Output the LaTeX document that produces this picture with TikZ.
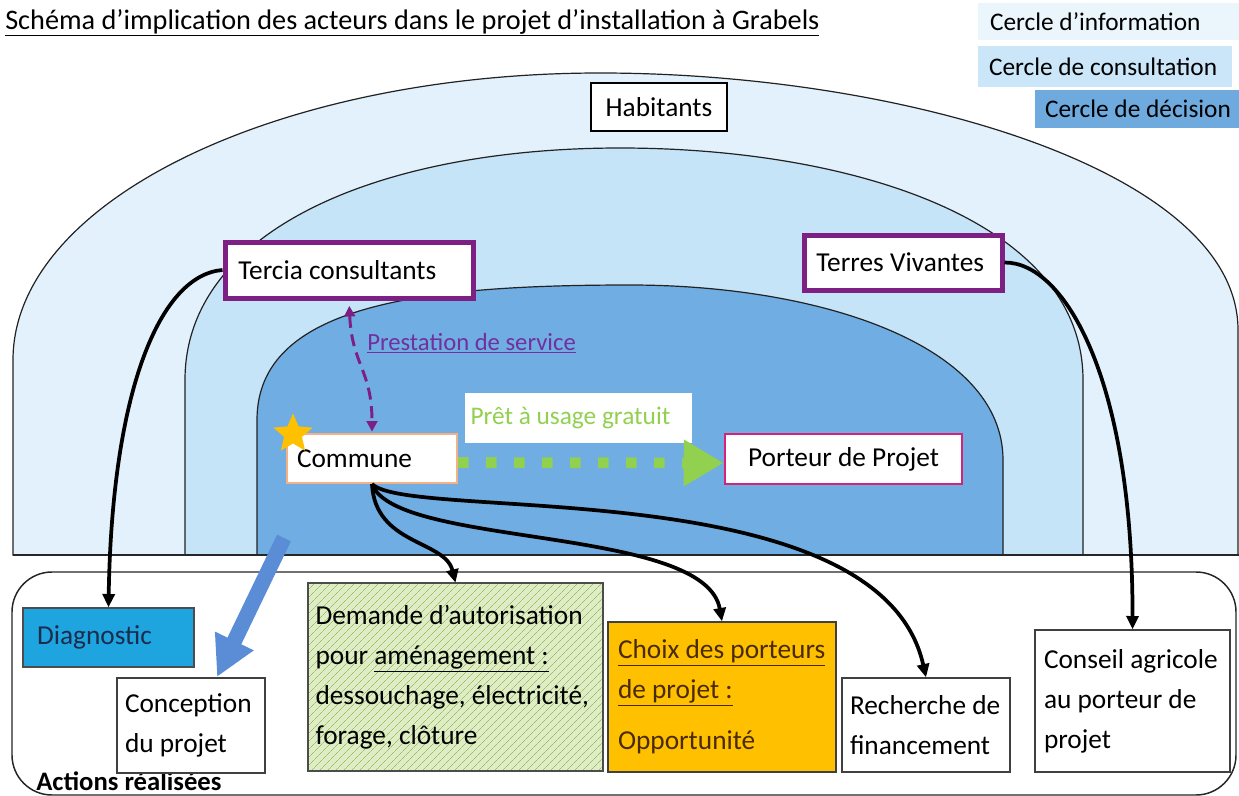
\documentclass[tikz,border=0pt]{standalone}
\usepackage{fontspec}
\setmainfont{Carlito}
\usetikzlibrary{arrows.meta,shapes.geometric,patterns.meta}

\definecolor{infoC}{HTML}{E2F1FB}
\definecolor{consC}{HTML}{C6E4F8}
\definecolor{deciC}{HTML}{70ADE2}
\definecolor{legInfo}{HTML}{EAF5FC}
\definecolor{legCons}{HTML}{CBE6F8}
\definecolor{legDec}{HTML}{6FAADF}
\definecolor{purpleB}{HTML}{7E1F83}
\definecolor{purpleT}{HTML}{7030A0}
\definecolor{orangeB}{HTML}{F4B183}
\definecolor{magB}{HTML}{D6237A}
\definecolor{greenA}{HTML}{92D050}
\definecolor{blueA}{HTML}{5A8DD6}
\definecolor{diagC}{HTML}{1EA5E0}
\definecolor{diagT}{HTML}{1C2C4C}
\definecolor{choixC}{HTML}{FFC000}
\definecolor{choixT}{HTML}{4A2A00}
\definecolor{demC}{HTML}{DFEDC6}
\definecolor{demL}{HTML}{9BBD5F}
\definecolor{starC}{HTML}{FFC000}
\definecolor{archline}{HTML}{222222}

\newcommand\fixspace{\hyphenpenalty=10000\relax}
\newcommand\bodyf{\fontsize{20.5}{30}\selectfont\fixspace}
\newcommand\smallf{\fontsize{18.5}{22}\selectfont\fixspace}
\newcommand\legf{\fontsize{19}{22}\selectfont\fixspace}

\tikzset{
  bx/.style={draw=black!75, line width=1pt, fill=white, inner ysep=0pt, align=flush left, font=\bodyf},
  actor/.style={bx, draw=purpleB, line width=3.75pt},
  conn/.style={line width=2.8pt, black, -{Triangle[length=10pt,width=9pt]}},
  legend/.style={inner ysep=0pt, align=flush left, font=\legf},
  arch/.style={draw=archline, line width=0.9pt}
}

\begin{document}
\begin{tikzpicture}[x=0.75pt,y=-0.75pt]
\useasboundingbox (0,0) rectangle (1239,796);
\fill[white] (0,0) rectangle (1239,796);

% arches
\filldraw[arch, fill=infoC] (13,555) -- (13,360) .. controls (13,200) and (280,73) .. (600,73) .. controls (900,73) and (1238,170) .. (1238,330) -- (1238,555) -- cycle;
\filldraw[arch, fill=consC] (185,555) -- (185,380) .. controls (185,230) and (380,148) .. (620,148) .. controls (850,148) and (1083,220) .. (1083,380) -- (1083,555) -- cycle;
\filldraw[arch, fill=deciC] (257,555) -- (257,420) .. controls (257,305) and (420,285) .. (630,285) .. controls (820,285) and (1003,345) .. (1003,460) -- (1003,555) -- cycle;
\draw[line width=2pt, black!85] (13,555) -- (1239,555);

% actions frame
\draw[line width=1.1pt, black!85, rounded corners=30pt] (12,572) rectangle (1236,795);
\node[anchor=base west, inner sep=0, font=\fontsize{20}{24}\selectfont\bfseries] (actions) at (36,790) {Actions réalisées};

% title
\node[anchor=base west, inner sep=0, font=\fontsize{21.2}{24}\selectfont] (title) at (5,29) {\underline{Schéma d’implication des acteurs dans le projet d’installation à Grabels}};

% legend
\node[legend, fill=legInfo, minimum width=195.75pt, minimum height=27.75pt, text width=177.75pt, inner xsep=9pt] (leginfo) at (1108.5,21.5) {\mbox{Cercle d’information}};
\node[legend, fill=legCons, minimum width=190.5pt, minimum height=30.75pt, text width=174pt, inner xsep=8.25pt] (legcons) at (1105,66.5) {\mbox{Cercle de consultation}};
\node[legend, fill=legDec, minimum width=153pt, minimum height=28.5pt, text width=138pt, inner xsep=7.5pt] (legdec) at (1137,109) {\mbox{Cercle de décision}};

% actors
\node[bx, draw=black, line width=1.8pt, align=center, minimum width=102pt, minimum height=36pt] (hab) at (659,107) {Habitants};
\node[actor, minimum width=186pt, minimum height=42pt, text width=166pt, inner xsep=10pt] (tercia) at (349,270) {Tercia consultants};
\node[actor, minimum width=148.5pt, minimum height=41.25pt, text width=130pt, inner xsep=9.25pt] (terres) at (903,262.5) {\mbox{Terres Vivantes}};
\node[bx, draw=orangeB, line width=1.5pt, minimum width=127.5pt, minimum height=36.75pt, text width=112.5pt, inner xsep=7.5pt] (commune) at (372,458.5) {Commune};
\node[bx, draw=magB, line width=1.9pt, align=center, minimum width=177.75pt, minimum height=37.5pt] (porteur) at (843.5,459) {Porteur de Projet};
\node[star, star points=5, star point ratio=2.2, fill=starC, minimum size=31pt, inner sep=0pt] (star) at (293,434) {};

% relation labels
\node[fill=white, text=greenA, font=\legf, minimum width=170.25pt, minimum height=37.5pt, text width=162pt, inner xsep=4.25pt, inner ysep=0pt, align=flush left] (pret) at (578.5,418) {Prêt à usage gratuit};
\node[anchor=west, text=purpleT, font=\smallf, inner sep=0pt] (presta) at (367,343) {\underline{Prestation de service}};

% actions
\node[bx, fill=diagC, draw=black!70, text=diagT, minimum width=128.25pt, minimum height=44.25pt, text width=107.25pt, inner xsep=10.5pt] (diag) at (108.5,637.5) {Diagnostic};
\node[bx, minimum width=111pt, minimum height=71.25pt, text width=99pt, inner xsep=6pt] (concep) at (191,725.5) {Conception\\du projet};
\node[bx, draw=black!70, preaction={fill=demC}, pattern={Lines[angle=45,distance=4pt,line width=0.45pt]}, pattern color=demL, minimum width=221.25pt, minimum height=141pt, text width=210pt, inner xsep=5.6pt] (demande) at (455.5,677) {Demande d’autorisation\\pour \underline{aménagement :}\\dessouchage, électricité,\\forage, clôture};
\node[bx, fill=choixC, text=choixT, minimum width=171pt, minimum height=112.5pt, text width=156pt, inner xsep=7.5pt] (choix) at (722,697) {\underline{Choix des porteurs}\\\underline{de projet :}\\[8pt]Opportunité};
\node[bx, minimum width=126pt, minimum height=70.5pt, text width=114pt, inner xsep=6pt] (recherche) at (926,725) {Recherche de\\financement};
\node[bx, minimum width=146.25pt, minimum height=106.5pt, text width=132.75pt, inner xsep=6.75pt] (conseil) at (1132.5,701) {Conseil agricole\\au porteur de\\projet};

% connectors
\coordinate (bluestart) at (284,538);
\coordinate (blueend) at (217,677);
\draw[blueA, line width=11.5pt, -{Triangle[length=30pt,width=30pt]}] (bluestart) -- (blueend);

\draw[purpleB, line width=2.2pt, dash pattern=on 9pt off 5pt, shorten <=4pt, shorten >=1pt, {Triangle[length=8pt,width=8pt]}-{Triangle[length=8pt,width=8pt]}] (tercia.south) .. controls (352,365) and (372,370) .. (commune.north);

\draw[greenA, line width=8pt, dash pattern=on 8pt off 13pt, -{Triangle[length=30pt,width=33pt]}] ([yshift=-3pt]commune.east) -- ([yshift=-3pt]porteur.west);

\draw[conn] (tercia.west) .. controls (160,275) and (112,390) .. (diag.north);
\draw[conn] (terres.east) .. controls (1065,262) and (1133,380) .. (conseil.north);
\draw[conn] (commune.south) .. controls (375,545) and (445,540) .. (demande.north);
\draw[conn] (commune.south) .. controls (395,548) and (705,525) .. (choix.north);
\draw[conn] (commune.south) .. controls (410,522) and (880,470) .. (recherche.north);
\end{tikzpicture}
\end{document}
